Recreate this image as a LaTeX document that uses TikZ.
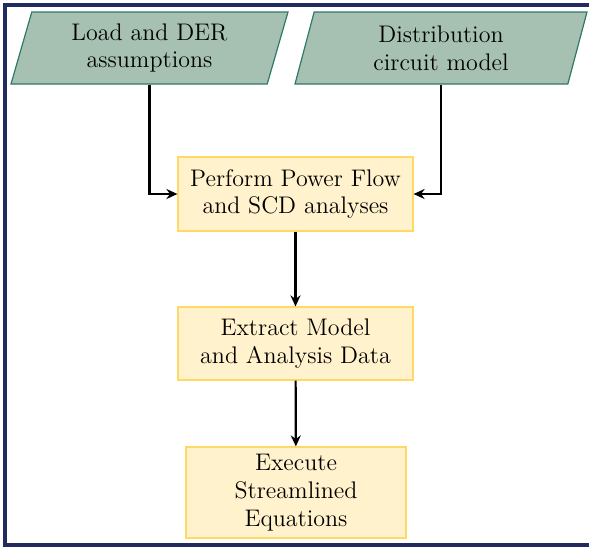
\documentclass[tikz,border=0pt]{standalone}
\usepackage{tikz}
\usepackage{xcolor}
\usetikzlibrary{shapes.geometric}
\usetikzlibrary{arrows.meta}
\usetikzlibrary{positioning}

\definecolor{inputfill}{RGB}{166,193,178}
\definecolor{inputline}{RGB}{46,122,102}
\definecolor{stepfill}{RGB}{255,242,204}
\definecolor{stepline}{RGB}{255,217,102}
\definecolor{framenavy}{RGB}{33,43,96}

\begin{document}
\begin{tikzpicture}[x=0.5pt, y=-0.5pt,
		every node/.style={font=\fontsize{12pt}{13.9pt}\selectfont, align=center},
		inputbox/.style={trapezium, trapezium left angle=70, trapezium right angle=110,
			trapezium stretches body, fill=inputfill, draw=inputline, line width=0.6pt,
			minimum height=36pt, inner sep=2pt},
		stepbox/.style={rectangle, fill=stepfill, draw=stepline, line width=0.6pt},
		flow/.style={-{Stealth[length=5.5pt,width=5pt]}, line width=1.1pt}]
		\clip (0,0) rectangle (589,548);
		\draw[framenavy, line width=2pt] (5,4.5) rectangle (600,544.5);
		\node[inputbox, minimum width=138.5pt] (load) at (149.5,48) {Load and DER\\assumptions};
		\node[inputbox, minimum width=146pt] (circuit) at (441,48) {Distribution\\circuit model};
		\node[stepbox, minimum width=117.5pt, minimum height=37pt] (powerflow) at (295.5,194) {Perform Power Flow\\and SCD analyses};
		\node[stepbox, minimum width=117.5pt, minimum height=36.5pt] (extract) at (295.5,343.5) {Extract Model\\and Analysis Data};
		\node[stepbox, minimum width=110pt, minimum height=45.5pt] (execute) at (296,492.5) {Execute\\Streamlined\\Equations};
		\draw[flow] (load) |- (powerflow);
		\draw[flow] (circuit) |- (powerflow);
		\draw[flow] (powerflow) -- (extract);
		\draw[flow] (extract) -- (execute);
	\end{tikzpicture}
\end{document}
